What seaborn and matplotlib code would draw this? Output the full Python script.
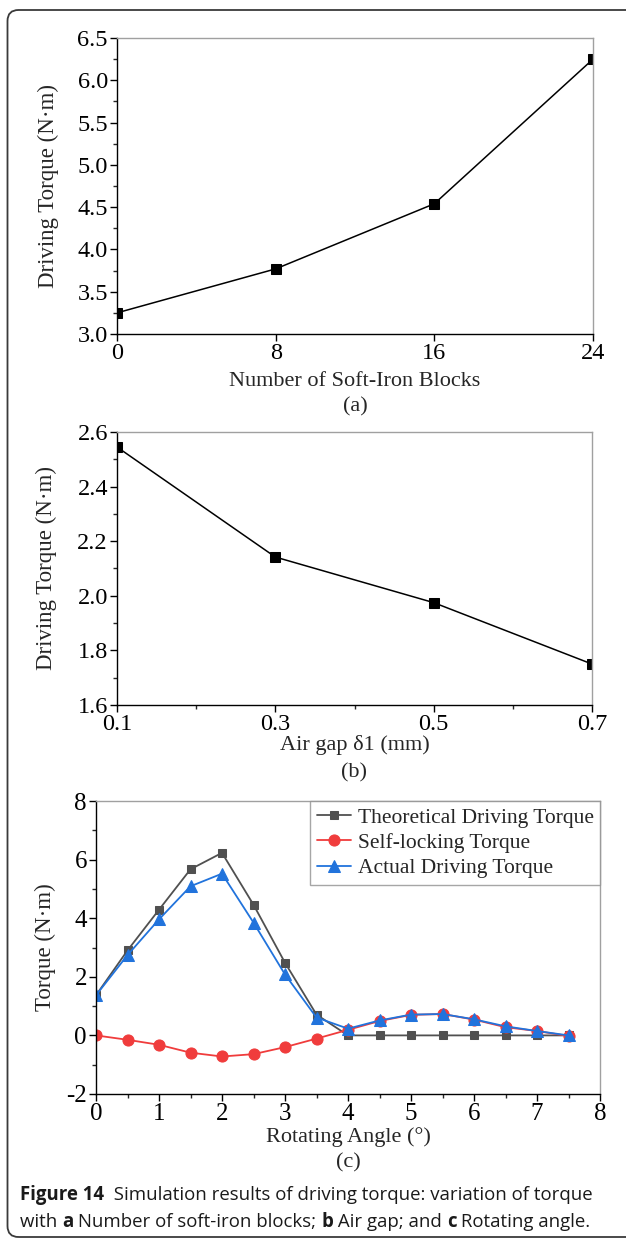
import matplotlib
matplotlib.use("Agg")
import matplotlib.pyplot as plt
import seaborn as sns
import numpy as np
import pandas as pd
from matplotlib.patches import FancyBboxPatch
from matplotlib.ticker import MultipleLocator, FormatStrFormatter

# ---- data ----
blocks = [0, 8, 16, 24]
torque_blocks = [3.25, 3.77, 4.54, 6.25]

air_gap = [0.1, 0.3, 0.5, 0.7]
torque_gap = [2.545, 2.142, 1.975, 1.75]

angle = [0, 0.5, 1, 1.5, 2, 2.5, 3, 3.5, 4, 4.5, 5, 5.5, 6, 6.5, 7, 7.5]
theoretical = [1.37, 2.90, 4.29, 5.67, 6.23, 4.46, 2.48, 0.71, 0, 0, 0, 0, 0, 0, 0, 0]
self_locking = [0.0, -0.15, -0.32, -0.59, -0.72, -0.64, -0.40, -0.11, 0.19, 0.49, 0.70, 0.73, 0.54, 0.28, 0.15, -0.02]
actual = [1.37, 2.74, 3.96, 5.09, 5.52, 3.85, 2.08, 0.61, 0.23, 0.51, 0.71, 0.73, 0.55, 0.31, 0.15, 0.0]

series_names = ["Theoretical Driving Torque", "Self-locking Torque", "Actual Driving Torque"]

sns.set_style("ticks")
plt.rcParams['font.family'] = ['Liberation Serif', 'DejaVu Serif']

W, H = 626, 1242
TICK_FS = 17.5
XLAB_FS = 16
YLAB_FS = 16.5
fig = plt.figure(figsize=(W / 100, H / 100), dpi=100)


def fx(px):
    return px / W


def fy(py):
    return 1 - py / H


def style_axes(ax, tick_fs=TICK_FS):
    for s in ['top', 'right']:
        ax.spines[s].set_color('#a0a0a0')
        ax.spines[s].set_linewidth(1.0)
    for s in ['left', 'bottom']:
        ax.spines[s].set_color('black')
        ax.spines[s].set_linewidth(1.0)
    ax.tick_params(axis='both', which='major', direction='out', length=5, width=1.0,
                   labelsize=tick_fs, colors='black', pad=1.5)
    ax.tick_params(axis='both', which='minor', direction='out', length=3, width=1.0)
    ax.tick_params(top=False, right=False, which='both')
    ax.set_xlabel("")
    ax.set_ylabel("")


def labels(xlabel, xl_y, tag, tag_y, ylabel, yl_x, ax_top, ax_bot, ax_l, ax_r):
    cx = (ax_l + ax_r) / 2
    fig.text(fx(cx), fy(xl_y), xlabel, ha='center', va='center', fontsize=XLAB_FS)
    fig.text(fx(cx), fy(tag_y), tag, ha='center', va='center', fontsize=XLAB_FS)
    fig.text(fx(yl_x), fy((ax_top + ax_bot) / 2), ylabel, ha='center', va='center',
             rotation=90, fontsize=YLAB_FS)


# ---- panel (a) ----
axa = fig.add_axes([fx(117), fy(334), fx(593) - fx(117), fy(38) - fy(334)])
dfa = pd.DataFrame({"x": blocks, "y": torque_blocks})
sns.lineplot(data=dfa, x="x", y="y", ax=axa, color='black', lw=1.1,
             marker='s', markersize=6.5, markeredgecolor='black', markerfacecolor='black')
axa.set_xlim(0, 24)
axa.set_ylim(3.0, 6.5)
axa.set_xticks(blocks)
axa.yaxis.set_major_locator(MultipleLocator(0.5))
axa.yaxis.set_minor_locator(MultipleLocator(0.25))
axa.yaxis.set_major_formatter(FormatStrFormatter('%.1f'))
style_axes(axa)
labels("Number of Soft-Iron Blocks", 382, "(a)", 407, "Driving Torque (N·m)", 48, 38, 334, 117, 593)

# ---- panel (b) ----
axb = fig.add_axes([fx(117), fy(705), fx(592) - fx(117), fy(432) - fy(705)])
dfb = pd.DataFrame({"x": air_gap, "y": torque_gap})
sns.lineplot(data=dfb, x="x", y="y", ax=axb, color='black', lw=1.1,
             marker='s', markersize=6.5, markeredgecolor='black', markerfacecolor='black')
axb.set_xlim(0.1, 0.7)
axb.set_ylim(1.6, 2.6)
axb.set_xticks(air_gap)
axb.xaxis.set_minor_locator(MultipleLocator(0.1))
axb.yaxis.set_major_locator(MultipleLocator(0.2))
axb.yaxis.set_minor_locator(MultipleLocator(0.1))
axb.xaxis.set_major_formatter(FormatStrFormatter('%.1f'))
axb.yaxis.set_major_formatter(FormatStrFormatter('%.1f'))
style_axes(axb)
labels("Air gap δ1 (mm)", 745, "(b)", 773, "Driving Torque (N·m)", 46, 432, 705, 117, 592)

# ---- panel (c) ----
axc = fig.add_axes([fx(96), fy(1094), fx(600) - fx(96), fy(801) - fy(1094)])
dfc = pd.DataFrame({"angle": angle * 3,
                    "torque": theoretical + self_locking + actual,
                    "series": [series_names[0]] * len(angle) + [series_names[1]] * len(angle)
                              + [series_names[2]] * len(angle)})
palette = {series_names[0]: '#505050', series_names[1]: '#f03c3c', series_names[2]: '#2173dc'}
markers = {series_names[0]: 's', series_names[1]: 'o', series_names[2]: '^'}
msize = {series_names[0]: 6, series_names[1]: 8, series_names[2]: 8}
for name in series_names:
    sub = dfc[dfc["series"] == name]
    sns.lineplot(data=sub, x="angle", y="torque", ax=axc, color=palette[name], lw=1.3,
                 marker=markers[name], markersize=msize[name], markeredgecolor=palette[name],
                 markerfacecolor=palette[name], label=name)
axc.set_xlim(0, 8)
axc.set_ylim(-2, 8)
axc.xaxis.set_major_locator(MultipleLocator(1))
axc.xaxis.set_minor_locator(MultipleLocator(0.5))
axc.yaxis.set_major_locator(MultipleLocator(2))
axc.yaxis.set_minor_locator(MultipleLocator(1))
axc.yaxis.set_major_formatter(matplotlib.ticker.FuncFormatter(lambda v, p: f"{v:.0f}".replace("\u2212", "-")))
style_axes(axc, tick_fs=18)
labels("Rotating Angle (°)", 1137, "(c)", 1163, "Torque (N·m)", 45, 801, 1094, 96, 600)
leg = axc.legend(loc='upper right', fontsize=15.5, frameon=True, fancybox=False,
                 borderaxespad=0, handlelength=1.6, handletextpad=0.3,
                 borderpad=0.3, labelspacing=0.25)
leg.get_frame().set_edgecolor('#909090')
leg.get_frame().set_linewidth(1.0)

# ---- caption ----
cap_font = ['Open Sans', 'DejaVu Sans']
CFS = 13.45
renderer = fig.canvas.get_renderer()


def draw_segments(x_px, y_px, segments):
    x = x_px
    for txt, bold in segments:
        t = fig.text(fx(x), fy(y_px), txt, fontsize=CFS, family=cap_font,
                     fontweight='bold' if bold else 'normal', ha='left', va='center',
                     color='#1a1a1a')
        bb = t.get_window_extent(renderer=renderer)
        x += bb.width


draw_segments(20, 1195, [("Figure 14", True), ("  Simulation results of driving torque: variation of torque", False)])
draw_segments(20, 1222, [("with ", False), ("a", True), (" Number of soft-iron blocks; ", False), ("b", True),
                         (" Air gap; and ", False), ("c", True), (" Rotating angle.", False)])

# ---- frame ----
frame = FancyBboxPatch((0.075, 0.05), 7.0, 12.27, boxstyle="round,pad=0,rounding_size=0.11",
                       transform=fig.dpi_scale_trans, fill=False, edgecolor='#3a3a3a', lw=1.3,
                       clip_on=False)
fig.add_artist(frame)

fig.savefig("out.png", dpi=100)
